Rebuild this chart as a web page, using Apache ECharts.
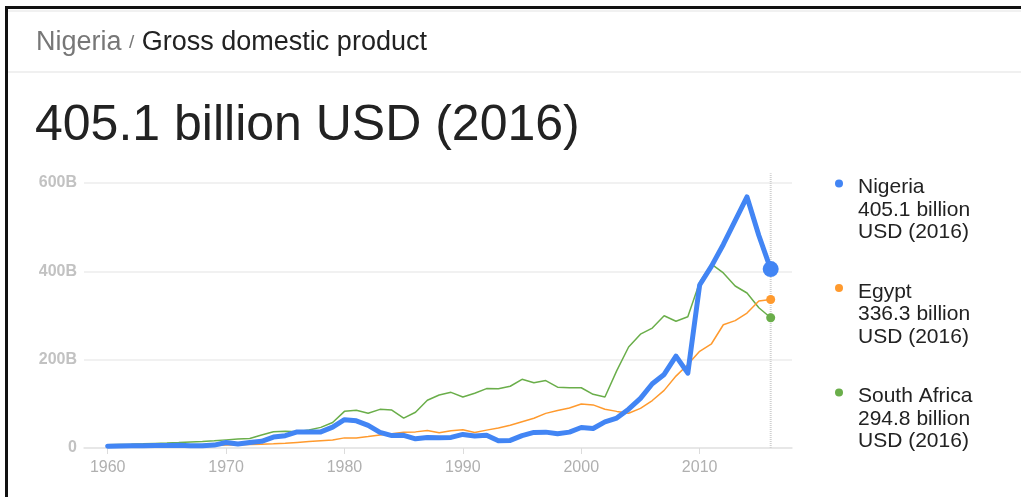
<!DOCTYPE html>
<html>
<head>
<meta charset="utf-8">
<title>Nigeria GDP</title>
<script src="https://cdn.jsdelivr.net/npm/echarts@6/dist/echarts.min.js"></script>
<style>
    html, body {margin: 0; padding: 0; background: #fff;}
    #main {width: 1021px; height: 497px;}
</style>
</head>
<body>
<div id="main"></div>
<script>
    // 年份 + 三个国家的 GDP（十亿美元）
    var years = [1960, 1961, 1962, 1963, 1964, 1965, 1966, 1967, 1968, 1969,
        1970, 1971, 1972, 1973, 1974, 1975, 1976, 1977, 1978, 1979,
        1980, 1981, 1982, 1983, 1984, 1985, 1986, 1987, 1988, 1989,
        1990, 1991, 1992, 1993, 1994, 1995, 1996, 1997, 1998, 1999,
        2000, 2001, 2002, 2003, 2004, 2005, 2006, 2007, 2008, 2009,
        2010, 2011, 2012, 2013, 2014, 2015, 2016];
    var nigeriaGdp = [4.2, 4.5, 4.9, 5.2, 5.6, 5.9, 6.4, 5.2, 5.2, 6.6,
        12.5, 9.2, 12.3, 15.2, 24.8, 27.8, 36.3, 36.0, 36.5, 47.3,
        64.2, 61.6, 51.4, 35.4, 28.1, 28.8, 20.7, 23.8, 23.1, 24.0,
        30.8, 27.4, 29.0, 16.2, 17.2, 28.0, 35.3, 35.9, 32.1, 35.9,
        46.4, 44.1, 59.1, 67.7, 87.8, 112.2, 145.4, 166.5, 208.1, 169.5,
        369.1, 411.7, 460.9, 514.9, 568.5, 481.1, 405.1];
    var egyptGdp = [4.0, 4.3, 4.5, 4.9, 5.4, 5.1, 5.4, 5.5, 5.6, 6.1,
        6.6, 7.2, 7.9, 8.4, 9.4, 10.5, 12.5, 14.5, 16.5, 18.0,
        22.9, 22.7, 26.0, 29.6, 32.0, 35.4, 36.5, 39.8, 34.5, 39.0,
        41.5, 35.0, 40.5, 45.5, 51.5, 59.5, 67.5, 78.4, 84.8, 90.7,
        99.8, 97.6, 87.9, 82.9, 78.8, 89.7, 107.5, 130.5, 162.8, 189.1,
        218.9, 236.0, 279.1, 288.4, 305.6, 332.7, 336.3];
    var southAfricaGdp = [7.6, 8.0, 8.5, 9.4, 10.4, 11.3, 12.4, 13.8, 14.6, 16.4,
        18.4, 20.4, 21.4, 29.3, 36.8, 38.2, 36.6, 40.7, 46.7, 57.8,
        83.0, 85.5, 78.7, 87.5, 86.0, 67.5, 81.0, 108.0, 120.0, 126.0,
        115.5, 124.0, 134.5, 134.3, 139.8, 155.5, 147.6, 152.6, 137.8, 136.6,
        136.4, 121.5, 115.5, 175.3, 228.6, 257.8, 271.6, 299.4, 287.1, 297.2,
        375.3, 416.4, 396.3, 366.8, 350.9, 317.6, 294.8];
    var xTicks = [1960, 1970, 1980, 1990, 2000, 2010];
    var countries = ['Nigeria', 'Egypt', 'South Africa'];
    var colors = ['#4285f4', '#ff9a2e', '#6aae4a'];

    var FONT = '"Liberation Sans", Arial, sans-serif';
    var lastIdx = years.length - 1;
    var lastYear = years[lastIdx];

    function toPoints(list, endSize) {
        var out = [];
        for (var i = 0; i < list.length; i++) {
            var item = {value: [years[i], list[i]]};
            if (i === lastIdx) {
                item.symbol = 'circle';
                item.symbolSize = endSize;
            }
            out.push(item);
        }
        return out;
    }

    function billion(v) {
        return v.toFixed(1) + ' billion';
    }

    // 右侧图例（圆点 + 三行文字）
    function buildLegend() {
        var items = [];
        var lastValues = [nigeriaGdp[lastIdx], egyptGdp[lastIdx], southAfricaGdp[lastIdx]];
        for (var k = 0; k < countries.length; k++) {
            var rowTop = 176 + k * 104.5;
            items.push({
                type: 'circle', shape: {cx: 839, cy: rowTop + 7.5, r: 4},
                style: {fill: colors[k]}, z: 10
            });
            items.push({
                type: 'text', x: 858, y: rowTop, z: 10,
                style: {
                    text: countries[k] + '\n' + billion(lastValues[k]) + '\nUSD (' + lastYear + ')',
                    font: '21px ' + FONT, lineHeight: 22.5, fill: '#222',
                    verticalAlign: 'top'
                }
            });
        }
        return items;
    }

    var chart = echarts.init(document.getElementById('main'));

    var option = {
        backgroundColor: '#fff',
        animation: false,
        grid: {left: 84, right: 229, top: 183, bottom: 49},
        xAxis: {
            type: 'value', min: 1958, max: 2017.8,
            axisLine: {show: true, lineStyle: {color: '#e4e4e4', width: 1.5}},
            axisTick: {show: true, customValues: xTicks, length: 6, lineStyle: {color: '#dcdcdc'}},
            axisLabel: {
                customValues: xTicks, margin: 12, color: '#b0b0b0',
                fontFamily: FONT, fontSize: 16,
                formatter: function (v) { return String(v); }
            },
            splitLine: {show: false}
        },
        yAxis: {
            type: 'value', min: 0, max: 600, interval: 200,
            axisLine: {show: false}, axisTick: {show: false},
            axisLabel: {
                margin: 7, color: '#c2c2c2', fontFamily: FONT, fontSize: 16, fontWeight: 'bold',
                padding: [0, 0, 4, 0],
                formatter: function (v) { return v === 0 ? '0' : v + 'B'; }
            },
            splitLine: {lineStyle: {color: '#ececec', width: 1.5}}
        },
        series: [
            {
                // 2016 年的竖向虚线
                name: 'marker', type: 'line', silent: true, clip: false, symbol: 'none', z: 1,
                data: [[lastYear, 0], [lastYear, 622]],
                lineStyle: {color: '#d0d0d0', width: 2, type: [1, 1]}
            },
            {
                name: countries[2], type: 'line', symbol: 'none', z: 2,
                data: toPoints(southAfricaGdp, 9),
                lineStyle: {color: colors[2], width: 1.5}, itemStyle: {color: colors[2]}
            },
            {
                name: countries[1], type: 'line', symbol: 'none', z: 3,
                data: toPoints(egyptGdp, 9),
                lineStyle: {color: colors[1], width: 1.5}, itemStyle: {color: colors[1]}
            },
            {
                name: countries[0], type: 'line', symbol: 'none', z: 4,
                data: toPoints(nigeriaGdp, 16),
                lineStyle: {color: colors[0], width: 5, join: 'round', cap: 'round'},
                itemStyle: {color: colors[0]}
            }
        ],
        graphic: [
            // 外框
            {type: 'line', shape: {x1: 5, y1: 7.5, x2: 1021, y2: 7.5}, style: {stroke: '#111', lineWidth: 3}, z: 20},
            {type: 'line', shape: {x1: 6.5, y1: 6, x2: 6.5, y2: 497}, style: {stroke: '#111', lineWidth: 3}, z: 20},
            {type: 'line', shape: {x1: 8, y1: 11, x2: 1021, y2: 11}, style: {stroke: '#ececec', lineWidth: 1.5}, z: 20},
            {type: 'line', shape: {x1: 8, y1: 72, x2: 1021, y2: 72}, style: {stroke: '#ebebeb', lineWidth: 1.5}, z: 20},
            // 600B 标签顶部被截掉
            {type: 'rect', shape: {x: 20, y: 13, width: 70, height: 162}, style: {fill: '#fff'}, z: 15},
            {
                type: 'text', x: 36, y: 43, z: 20,
                style: {
                    text: '{a|Nigeria }{s|/}{b| Gross domestic product}',
                    verticalAlign: 'middle',
                    rich: {
                        a: {font: '27px ' + FONT, fill: '#777'},
                        s: {font: '19px ' + FONT, fill: '#777'},
                        b: {font: '27px ' + FONT, fill: '#222'}
                    }
                }
            },
            {
                type: 'text', x: 35, y: 126, z: 20,
                style: {
                    text: billion(nigeriaGdp[lastIdx]) + ' USD (' + lastYear + ')',
                    font: '50px ' + FONT, fill: '#222', verticalAlign: 'middle'
                }
            }
        ].concat(buildLegend())
    };

    chart.setOption(option);
</script>
</body>
</html>
